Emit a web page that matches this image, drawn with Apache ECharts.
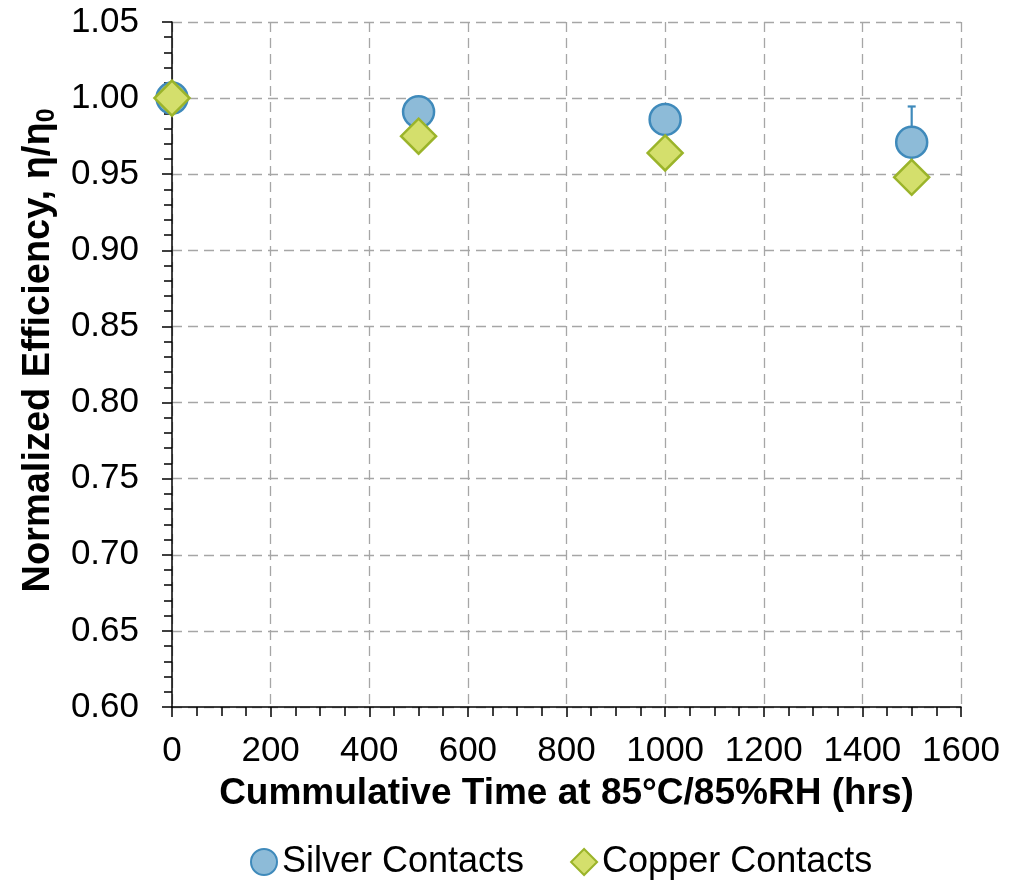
<!DOCTYPE html>
<html>
<head>
<meta charset="utf-8">
<script src="https://cdn.jsdelivr.net/npm/echarts@6/dist/echarts.min.js"></script>
<style>html,body{margin:0;padding:0;background:#fff}#c{width:1027px;height:885px}</style>
</head>
<body>
<div id="c"></div>
<script>
var hours = [0, 500, 1000, 1500];
var silver = [1.000, 0.991, 0.986, 0.971];
var silverErr = [0, 0.004, 0.008, 0.0235];
var copper = [1.000, 0.975, 0.964, 0.948];

var FONT = '"Liberation Sans", Arial, sans-serif';
var chart = echarts.init(document.getElementById('c'));

var errData = hours.map(function (h, i) { return [h, silver[i] - silverErr[i], silver[i] + silverErr[i]]; });

chart.setOption({
  animation: false,
  backgroundColor: '#fff',
  textStyle: { fontFamily: FONT, color: '#000' },
  grid: { left: 172, right: 66, top: 22, bottom: 178, containLabel: false },
  legend: {
    bottom: 0, left: 245,
    itemGap: 46, itemWidth: 26, itemHeight: 26,
    textStyle: { fontFamily: FONT, fontSize: 36, color: '#000' },
    data: ['Silver Contacts', 'Copper Contacts']
  },
  xAxis: {
    type: 'value', min: 0, max: 1600, interval: 200,
    name: 'Cummulative Time at 85°C/85%RH (hrs)',
    nameLocation: 'middle', nameGap: 68,
    nameTextStyle: { fontFamily: FONT, fontSize: 37, fontWeight: 'bold', color: '#000' },
    axisLine: { show: true, onZero: false, lineStyle: { color: '#000', width: 1.5 } },
    axisTick: { show: true, inside: false, length: 10, lineStyle: { color: '#000', width: 1.5 } },
    minorTick: { show: true, splitNumber: 4, length: 9, lineStyle: { color: '#000', width: 1.5 } },
    axisLabel: { fontFamily: FONT, fontSize: 35, color: '#000', margin: 27,
      formatter: function (v) { return String(v); } },
    splitLine: { show: true, lineStyle: { color: '#a6a6a6', type: [10, 6], width: 1.3 } }
  },
  yAxis: {
    type: 'value', min: 0.60, max: 1.05, interval: 0.05,
    name: 'Normalized Efficiency, η/η{s|0}',
    nameLocation: 'middle', nameGap: 108, nameRotate: 90,
    nameTextStyle: { fontFamily: FONT, fontSize: 38, fontWeight: 'bold', color: '#000',
      padding: [0, 0, 0, 28],
      rich: { s: { fontFamily: FONT, fontSize: 25, fontWeight: 'bold', color: '#000', verticalAlign: 'bottom', padding: [17, 0, 0, 0] } } },
    axisLine: { show: true, onZero: false, lineStyle: { color: '#000', width: 1.5 } },
    axisTick: { show: true, inside: false, length: 10, lineStyle: { color: '#000', width: 1.5 } },
    minorTick: { show: true, splitNumber: 5, length: 8, lineStyle: { color: '#000', width: 1.5 } },
    axisLabel: { fontFamily: FONT, fontSize: 35, color: '#000', margin: 33,
      formatter: function (v) { return v.toFixed(2); } },
    splitLine: { show: true, lineStyle: { color: '#a6a6a6', type: [10, 6], width: 1.3 } }
  },
  series: [
    {
      name: 'Silver Contacts', type: 'scatter', symbol: 'circle', symbolSize: 31, z: 3,
      itemStyle: { color: '#8dbbd8', borderColor: '#3f8abb', borderWidth: 2.5, opacity: 1 },
      data: hours.map(function (h, i) { return [h, silver[i]]; })
    },
    {
      name: 'errSilver', type: 'custom', z: 2, silent: true,
      data: errData,
      renderItem: function (params, api) {
        var x = api.value(0);
        var lo = api.coord([x, api.value(1)]);
        var hi = api.coord([x, api.value(2)]);
        var w = 4;
        return {
          type: 'group',
          children: [
            { type: 'line', shape: { x1: hi[0], y1: hi[1], x2: lo[0], y2: lo[1] }, style: { stroke: '#3f8abb', lineWidth: 2.2 } },
            { type: 'line', shape: { x1: hi[0] - w, y1: hi[1], x2: hi[0] + w, y2: hi[1] }, style: { stroke: '#3f8abb', lineWidth: 2.2 } },
            { type: 'line', shape: { x1: lo[0] - w, y1: lo[1], x2: lo[0] + w, y2: lo[1] }, style: { stroke: '#3f8abb', lineWidth: 2.2 } }
          ]
        };
      }
    },
    {
      name: 'Copper Contacts', type: 'scatter', symbol: 'diamond', symbolSize: 35, z: 4,
      itemStyle: { color: '#d4df6c', borderColor: '#9bb42a', borderWidth: 2.5, opacity: 1 },
      data: hours.map(function (h, i) { return [h, copper[i]]; })
    }
  ]
});
</script>
</body>
</html>
